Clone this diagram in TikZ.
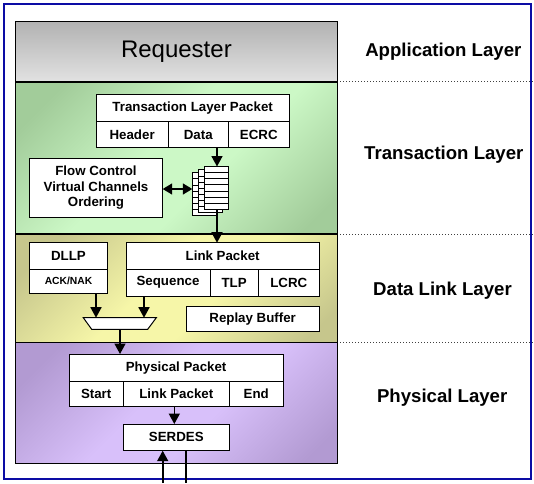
\documentclass[tikz,border=0pt]{standalone}
\usepackage{fontspec}
\setmainfont{Liberation Sans}
\usetikzlibrary{arrows.meta,calc}
\definecolor{frameblue}{HTML}{0C0CA4}
\definecolor{grD}{HTML}{B2B2B2}
\definecolor{grL}{HTML}{E2E2E2}
\definecolor{gnD}{HTML}{A2CC9A}
\definecolor{gnL}{HTML}{CCF8C6}
\definecolor{yeD}{HTML}{C6C68C}
\definecolor{yeL}{HTML}{F6F6A8}
\definecolor{puD}{HTML}{B29AD2}
\definecolor{puL}{HTML}{D8C0FA}
\definecolor{dotgray}{HTML}{404040}
\pgfdeclarehorizontalshading{greenshade}{100bp}{color(0bp)=(gnD); color(22bp)=(gnD); color(45bp)=(gnL); color(58bp)=(gnL); color(80bp)=(gnD); color(100bp)=(gnD)}
\pgfdeclarehorizontalshading{yellowshade}{100bp}{color(0bp)=(yeD); color(22bp)=(yeD); color(45bp)=(yeL); color(58bp)=(yeL); color(80bp)=(yeD); color(100bp)=(yeD)}
\pgfdeclarehorizontalshading{purpleshade}{100bp}{color(0bp)=(puD); color(22bp)=(puD); color(45bp)=(puL); color(58bp)=(puL); color(80bp)=(puD); color(100bp)=(puD)}
\tikzset{
  cell/.style={draw=black, fill=white, line width=1pt, inner sep=0pt, outer sep=0pt,
    font=\fontsize{13.3}{15.5}\selectfont\bfseries},
  smallcell/.style={cell, font=\fontsize{10.3}{12}\selectfont\bfseries},
  stackbox/.style={draw=black, fill=white, line width=0.9pt, inner sep=0pt, outer sep=0pt,
    minimum width=24pt, minimum height=43pt},
  layerlabel/.style={font=\fontsize{18.6}{22}\selectfont\bfseries, inner sep=0pt},
  arr/.style={line width=1.6pt, -{Triangle[width=11pt,length=10.5pt]}},
  darr/.style={line width=1.6pt, {Triangle[width=11pt,length=9.5pt]}-{Triangle[width=11pt,length=9.5pt]}},
  plain/.style={line width=1.6pt},
  dotline/.style={dotgray, line width=1pt, dash pattern=on 1pt off 2pt},
  sep/.style={line width=1.3pt, black},
  muxshape/.style={draw=black, fill=white, line width=1pt}
}
\begin{document}
\begin{tikzpicture}[x=1pt,y=-1pt]
\useasboundingbox (0,0) rectangle (534,483);
\fill[white] (0,0) rectangle (534,483);
% layer backgrounds
\shade[top color=grD, bottom color=grL] (15.5,21.5) rectangle (337.3,82);
\shade[shading=greenshade, shading angle=-45] (15.5,82) rectangle (337.3,234);
\shade[shading=yellowshade, shading angle=-45] (15.5,234) rectangle (337.3,342.3);
\shade[shading=purpleshade, shading angle=-45] (15.5,342.3) rectangle (337.3,463.3);
\draw[sep] (15.5,21.5) rectangle (337.3,463.3);
\draw[sep] (15.5,82) -- (337.3,82);
\draw[sep] (15.5,234) -- (337.3,234);
\draw[sep] (15.5,342.3) -- (337.3,342.3);
% dotted separators
\draw[dotline] (340,81.7) -- (534,81.7);
\draw[dotline] (340,234) -- (534,234);
\draw[dotline] (340,342.3) -- (534,342.3);
% frame
\draw[frameblue, line width=2.2pt] (4,4) rectangle (530.7,479);
% labels
\node[inner sep=0pt, font=\fontsize{24}{27}\selectfont] (req) at (176.4,52) {Requester};
\node[layerlabel] (lapp) at (443.3,51.7) {Application Layer};
\node[layerlabel] (ltra) at (443.8,155) {Transaction Layer};
\node[layerlabel] (ldl) at (442.5,290.7) {Data Link Layer};
\node[layerlabel] (lph) at (442.2,397.3) {Physical Layer};
% transaction layer
\node[cell, minimum width=193.3pt, minimum height=27.4pt] (tlp) at (192.65,108) {Transaction Layer Packet};
\node[cell, minimum width=72.3pt, minimum height=25.6pt] (hdr) at (132.15,134.5) {Header};
\node[cell, minimum width=60pt, minimum height=25.6pt] (dat) at (198.3,134.5) {Data};
\node[cell, minimum width=61pt, minimum height=25.6pt] (ecrc) at (258.8,134.5) {ECRC};
\node[cell, minimum width=133.4pt, minimum height=59pt, align=center] (fc) at (96,187.8) {Flow Control\\Virtual Channels\\Ordering};
% stacked queues (back to front)
\foreach \q/\cx/\cy in {qback/204.3/194.2, qmid/210.3/191.3, qfront/216.3/188}{
  \node[stackbox] (\q) at (\cx,\cy) {};
  \foreach \i in {1,...,6}{
    \draw[line width=0.9pt] ($(\q.north west)!\i/7!(\q.south west)$) -- ($(\q.north east)!\i/7!(\q.south east)$);
  }
}
\draw[arr] (dat.south -| 217,0) -- (qfront.north -| 217,0);
\draw[darr] (fc.east |- 0,189) -- (qback.west |- 0,189);
% data link layer
\node[cell, minimum width=78.4pt, minimum height=26.6pt] (dllp) at (68.5,256) {DLLP};
\node[smallcell, minimum width=78.4pt, minimum height=24pt] (ack) at (68.5,281.3) {ACK/NAK};
\node[cell, minimum width=193.3pt, minimum height=26.6pt] (lp) at (222.65,256) {Link Packet};
\node[cell, minimum width=84pt, minimum height=26.7pt] (seq) at (168,282.65) {Sequence};
\node[cell, minimum width=48.3pt, minimum height=26.7pt] (tlpb) at (234.15,282.65) {TLP};
\node[cell, minimum width=61pt, minimum height=26.7pt] (lcrc) at (288.8,282.65) {LCRC};
\node[cell, minimum width=133.3pt, minimum height=25pt] (replay) at (252.65,319.2) {Replay Buffer};
% multiplexer
\coordinate (muxtop) at (120,317.7);
\coordinate (muxbot) at (120,329.3);
\draw[muxshape] (83.3,317.7) -- (156.3,317.7) -- (147.7,329.3) -- (91.7,329.3) -- cycle;
\draw[arr] (qfront.south -| 217,0) -- (lp.north -| 217,0);
\draw[arr] (ack.south -| 96,0) -- (muxtop -| 96,0);
\draw[arr] (seq.south -| 144,0) -- (muxtop -| 144,0);
% physical layer
\node[cell, minimum width=214.3pt, minimum height=27.7pt] (pp) at (176.15,367.85) {Physical Packet};
\node[cell, minimum width=54.3pt, minimum height=25pt] (start) at (96.15,394.2) {Start};
\node[cell, minimum width=106pt, minimum height=25pt] (lpk) at (176.3,394.2) {Link Packet};
\node[cell, minimum width=54pt, minimum height=25pt] (endc) at (256.3,394.2) {End};
\node[cell, minimum width=106pt, minimum height=26.7pt] (serdes) at (176.3,437.35) {SERDES};
\draw[arr] (muxbot) -- (pp.north -| muxbot);
\draw[arr] (lpk.south -| 174.3,0) -- (serdes.north -| 174.3,0);
\coordinate (rxin) at (162.7,483);
\coordinate (txout) at (185.7,483);
\draw[arr] (rxin) -- (serdes.south -| rxin);
\draw[plain] (serdes.south -| txout) -- (txout);
\end{tikzpicture}
\end{document}
